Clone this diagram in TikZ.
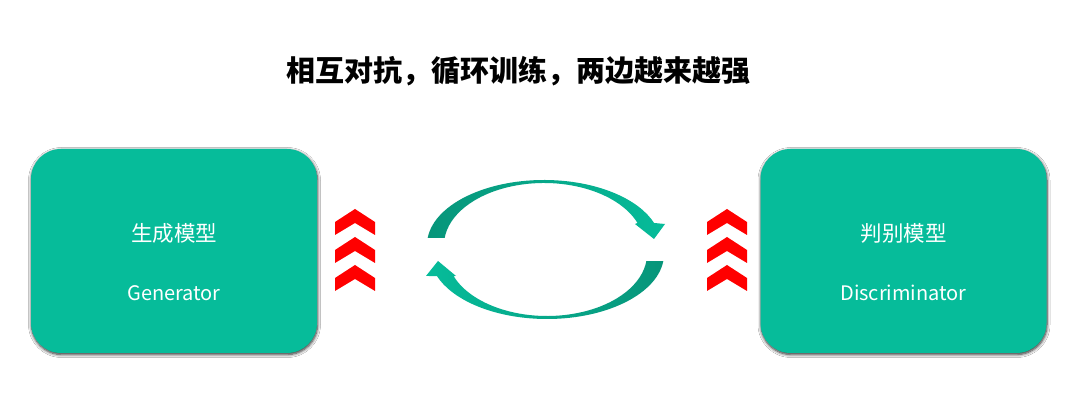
\documentclass[tikz,border=0pt]{standalone}
\usepackage{fontspec}
\newfontfamily\cjk{Noto Sans CJK SC}
\usetikzlibrary{calc,shadows.blur}
\definecolor{gteal}{HTML}{06BC9A}
\definecolor{gdark}{HTML}{07957A}
\begin{document}
\begin{tikzpicture}[x=1pt,y=1pt,
  model/.style={fill=gteal, rounded corners=30pt, minimum width=286pt, minimum height=204pt,
    blur shadow={shadow xshift=0.5pt, shadow yshift=-1.5pt, shadow blur radius=3pt, shadow blur extra rounding=3pt, shadow opacity=85, shadow blur steps=6}},
  cnlabel/.style={text=white, font=\cjk\fontsize{21.5}{24}\selectfont, anchor=base},
  enlabel/.style={text=white, font=\cjk\fontsize{20}{22}\selectfont, anchor=base},
  titletext/.style={text=black, font=\cjk\bfseries\fontsize{29}{32}\selectfont, anchor=base},
  chev/.style={fill=red}]
\useasboundingbox (0,0) rectangle (1080,401);
\fill[white] (0,0) rectangle (1080,401);
\node[titletext] (title) at (518.5,319) {相互对抗，循环训练，两边越来越强};
\node[model] (gen) at (174,150) {};
\node[model] (dis) at (903.5,150) {};
\node[cnlabel] (gencn) at (174,159) {生成模型};
\node[enlabel] (genen) at (174,100) {Generator};
\node[cnlabel] (discn) at (903.5,159) {判别模型};
\node[enlabel] (disen) at (903.5,100) {Discriminator};
% chevrons
\foreach \c in {355,727}{
  \foreach \k in {0,1,2}{
    \pgfmathsetmacro{\A}{192-28*\k}
    \fill[chev] (\c-20,\A-13) -- (\c,\A) -- (\c+20,\A-13) -- (\c+20,\A-26) -- (\c,\A-14) -- (\c-20,\A-26) -- cycle;
  }
}
% cycle arrows
\coordinate (c1) at (544,156);
\coordinate (c2) at (547,147);
\shade[left color=gdark, right color=gteal]
  ($(c1)+(173.8:117pt and 65pt)$) arc[start angle=173.8, end angle=19.8, x radius=117, y radius=65]
  -- (665,177) -- (654,162) -- (635,177)
  -- ($(c1)+(20.8:100pt and 62pt)$) arc[start angle=20.8, end angle=173.5, x radius=100, y radius=62] -- cycle;
\shade[left color=gteal, right color=gdark]
  ($(c2)+(353.8:117pt and 65pt)$) arc[start angle=353.8, end angle=199.8, x radius=117, y radius=65]
  -- (426,125) -- (438,140) -- (456,125)
  -- ($(c2)+(200.8:100pt and 62pt)$) arc[start angle=200.8, end angle=353.5, x radius=100, y radius=62] -- cycle;
\end{tikzpicture}
\end{document}
